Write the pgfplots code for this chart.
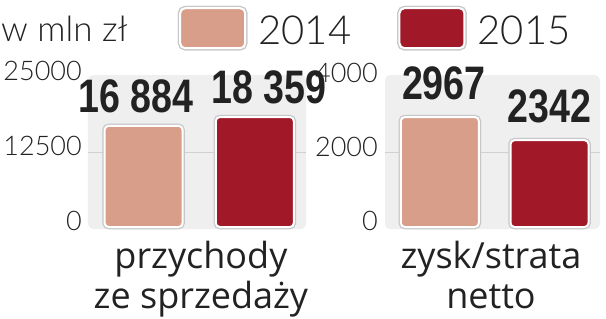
\documentclass[border=0pt]{standalone}
\usepackage{fontspec}
\usepackage{pgfplots}
\pgfplotsset{compat=1.18}
\setmainfont{Lato}
\newfontfamily\lightfont{Lato Light}
\newfontfamily\catfont{Open Sans}
\newfontfamily\condfont{Liberation Sans}[FakeStretch=0.8]
\definecolor{cA}{HTML}{D89E8A}
\definecolor{cB}{HTML}{A11828}
\definecolor{bg}{HTML}{EFEFEF}
\definecolor{txt}{HTML}{222222}
\newcommand{\tickfont}{\lightfont\fontsize{27}{27}\selectfont}
\newcommand{\valfont}{\condfont\bfseries\fontsize{47}{47}\selectfont}
\newcommand{\legfont}{\lightfont\fontsize{40}{40}\selectfont}
\newcommand{\labfont}{\catfont\fontsize{36}{40}\selectfont}
\newcommand{\swatch}[1]{\path (0pt,-17pt) (76pt,23pt);
  \draw[draw=white, line width=2pt, rounded corners=5pt, fill=#1, preaction={draw=black!22, line width=4.5pt}] (0pt,-17pt) rectangle (65pt,23pt);}
\pgfplotsset{
  panel/.style={
    scale only axis, height=154pt,
    xmin=-0.5, xmax=1.46, enlargelimits=false,
    axis line style={draw=none}, major tick length=0pt,
    xtick=\empty, scaled y ticks=false,
    yticklabel style={font=\tickfont, text=txt, anchor=east, inner sep=0pt, xshift=-6pt, yshift=6pt, /pgf/number format/1000 sep={}},
    /pgf/number format/assume math mode=true,
    axis background/.style={fill=bg, rounded corners=5pt},
    extra y tick labels={},
    extra y tick style={grid=major, major grid style={draw=black!18, line width=1pt}},
    ybar, bar width=78pt,
    nodes near coords,
    every node near coord/.append style={font=\valfont, text=txt, inner sep=0pt, yshift=12pt},
    xlabel style={align=center, font=\labfont, text=txt, anchor=north, inner sep=0pt},
  },
  barA/.style={bar shift=0pt, fill=cA, draw=white, line width=2pt, rounded corners=4pt, preaction={draw=black!22, line width=4.5pt}},
  barB/.style={bar shift=0pt, fill=cB, draw=white, line width=2pt, rounded corners=4pt, preaction={draw=black!22, line width=4.5pt}},
}
\begin{document}
\begin{tikzpicture}
\path[use as bounding box] (0pt,0pt) rectangle (606pt,-319pt);
\node[anchor=base west, font=\lightfont\fontsize{35}{35}\selectfont, text=txt, inner sep=0pt] at (1pt,-41pt) {w mln zł};
\begin{axis}[panel,
  at={(88pt,-229pt)}, anchor=south west, width=218pt,
  ymin=-330, ymax=25370,
  ytick={0,12500,25000}, extra y ticks={12500},
  xlabel={przychody\\ze sprzedaży},
  xlabel style={at={(rel axis cs:0.518,0)}, yshift=-12pt},
  legend columns=2,
  legend style={at={(rel axis cs:0.4117,1.4497)}, anchor=north west, draw=none, fill=none, inner sep=0pt, column sep=0pt, row sep=0pt, font=\legfont, text=txt, nodes={inner sep=0pt}, /tikz/every even column/.append style={column sep=46pt}},
]
\addplot[barA, legend image code/.code={\swatch{cA}}, every node near coord/.append style={xshift=-8pt, /pgf/number format/1000 sep={\hspace{0.22em}}}] coordinates {(0,16884)};
\addlegendentry{2014}
\addplot[barB, legend image code/.code={\swatch{cB}}, every node near coord/.append style={xshift=14pt, /pgf/number format/1000 sep={\hspace{0.22em}}}] coordinates {(1,18359)};
\addlegendentry{2015}
\end{axis}
\begin{axis}[panel,
  at={(385pt,-229pt)}, anchor=south west, width=215pt,
  ymin=-54, ymax=4100,
  ytick={0,2000,4000}, extra y ticks={2000},
  yticklabel style={xshift=-1pt},
  xlabel={zysk/strata\\netto},
  xlabel style={at={(rel axis cs:0.493,0)}, yshift=-12pt},
]
\addplot[barA, every node near coord/.append style={xshift=4pt, yshift=4pt, /pgf/number format/1000 sep={}}] coordinates {(0,2967)};
\addplot[barB, every node near coord/.append style={yshift=4pt, /pgf/number format/1000 sep={}}] coordinates {(1,2342)};
\end{axis}
\end{tikzpicture}
\end{document}
